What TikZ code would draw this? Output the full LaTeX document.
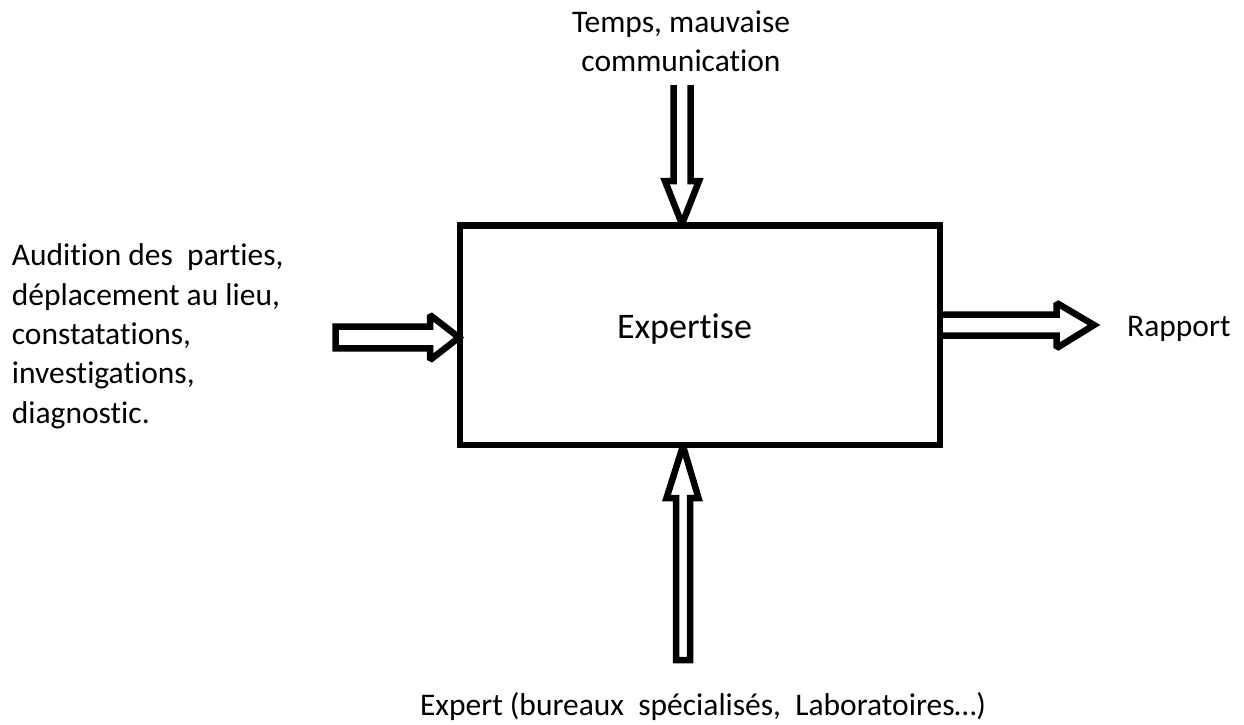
\documentclass[tikz,border=0pt]{standalone}
\usepackage{fontspec}
\setmainfont{Carlito}[Ligatures={TeX,NoCommon}]
\begin{document}
\begin{tikzpicture}[x=1pt,y=-1pt,
  blk/.style={draw=black, line width=6.5pt, line join=miter, miter limit=2, fill=white},
  lbl/.style={inner sep=0pt, font=\fontsize{31.5}{39.3}\selectfont}]
\useasboundingbox (0,0) rectangle (1244,724);
% block arrows
\draw[blk] (673.5,85) -- (673.5,181) -- (665,181) -- (682,224) -- (699,181) -- (690.5,181) -- (690.5,85);
\draw[blk] (335.5,326.7) -- (430,326.7) -- (430,315) -- (459,337.5) -- (430,360) -- (430,348.3) -- (335.5,348.3) -- cycle;
\draw[blk] (940,314.5) -- (1056.7,314.5) -- (1056.7,303) -- (1094,325) -- (1056.7,348) -- (1056.7,335.5) -- (940,335.5);
\draw[blk] (683,446) -- (698.5,498) -- (690,498) -- (690,660) -- (676,660) -- (676,498) -- (666.5,498) -- cycle;
% box
\node[draw, line width=6.5pt, minimum width=480pt, minimum height=219.5pt, inner sep=0pt] (box) at (700,335.25) {};
\node[inner sep=0pt, anchor=base, font=\fontsize{36}{44}\selectfont] (exp) at (684.5,338.5) {Expertise};
% labels (base anchor = baseline of last line)
\node[lbl, anchor=base, align=center] (top) at (681,71.7) {Temps, mauvaise\\communication};
\node[lbl, anchor=base west, align=left] (left) at (11.7,423) {Audition des~ parties,\\déplacement au lieu,\\constatations,\\investigations,\\diagnostic.};
\node[lbl, anchor=base west] (rap) at (1127,336) {Rapport};
\node[lbl, anchor=base] (bot) at (703,715) {Expert (bureaux~ spécialisés,~ Laboratoires…)};
\end{tikzpicture}
\end{document}
